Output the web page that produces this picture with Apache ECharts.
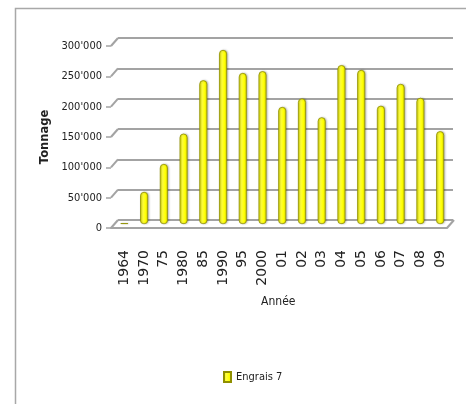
<!DOCTYPE html>
<html>
<head>
<meta charset="utf-8">
<script src="https://cdn.jsdelivr.net/npm/echarts@6/dist/echarts.min.js"></script>
<style>
  html, body { margin: 0; padding: 0; background: #ffffff; }
  #chart { width: 466px; height: 404px; }
</style>
</head>
<body>
<div id="chart"></div>
<script>
// Tonnage d'engrais par année
const years = ['1964', '1970', '75', '1980', '85', '1990', '95', '2000', '01', '02', '03', '04', '05', '06', '07', '08', '09'];
const engrais7 = [1500, 53000, 99000, 149000, 237000, 287000, 249000, 252000, 193000, 207000, 176000, 262000, 254000, 195000, 231000, 208000, 153000];
const yTicks = [0, 50000, 100000, 150000, 200000, 250000, 300000];
const seriesName = 'Engrais 7';

const narrow = '"Liberation Sans Narrow", "DejaVu Sans Condensed", "Liberation Sans", sans-serif';
const gridGray = '#a3a3a3';

function tickLabel(v) {
  return v === 0 ? '0' : (v / 1000) + "'000";
}

const chart = echarts.init(document.getElementById('chart'), null, { renderer: 'canvas' });

chart.setOption({
  animation: false,
  backgroundColor: '#ffffff',
  graphic: [{
    type: 'rect',
    z: -10,
    silent: true,
    shape: { x: 15.5, y: 8.5, width: 480, height: 420 },
    style: { fill: 'none', stroke: '#a8a8a8', lineWidth: 1.5 }
  }],
  legend: {
    data: [seriesName],
    left: 218,
    top: 366,
    icon: 'rect',
    itemWidth: 7,
    itemHeight: 10,
    itemGap: 3,
    textStyle: { fontFamily: narrow, fontSize: 11, color: '#222' }
  },
  grid: [
    // back wall
    { left: 118, right: 13, top: 38, bottom: 184 },
    // front edge
    { left: 111, right: 19, top: 46, bottom: 176 },
    // column depth
    { left: 114.5, right: 16, top: 42, bottom: 180 }
  ],
  xAxis: [
    { gridIndex: 0, type: 'value', min: 0, max: 1, show: false },
    {
      gridIndex: 1, type: 'value', min: 0, max: 1,
      axisLine: { show: true, lineStyle: { color: gridGray, width: 2 } },
      axisTick: { show: false }, axisLabel: { show: false }, splitLine: { show: false }
    },
    {
      gridIndex: 2, type: 'category', data: years,
      axisLine: { show: false }, axisTick: { show: false },
      axisLabel: {
        rotate: 90, margin: 26, interval: 0,
        fontFamily: '"DejaVu Sans", sans-serif', fontSize: 14, color: '#222'
      },
      name: 'Année', nameLocation: 'middle', nameGap: 72,
      nameTextStyle: { fontFamily: narrow, fontSize: 12, color: '#222', padding: [0, 8, 0, 0] }
    }
  ],
  yAxis: [
    {
      gridIndex: 0, type: 'value', min: 0, max: 300000, interval: 50000,
      axisLine: { show: false }, axisTick: { show: false }, axisLabel: { show: false },
      splitLine: { show: true, lineStyle: { color: gridGray, width: 2 } }
    },
    {
      gridIndex: 1, type: 'value', min: 0, max: 300000, interval: 50000,
      axisLine: { show: false },
      axisTick: { show: true, length: 5, lineStyle: { color: gridGray, width: 1.5 } },
      splitLine: { show: false },
      axisLabel: {
        margin: 9, formatter: tickLabel, padding: [5, 0, 0, 0],
        fontFamily: narrow, fontSize: 11, color: '#222'
      },
      name: 'Tonnage', nameLocation: 'middle', nameRotate: 90, nameGap: 58,
      nameTextStyle: { fontFamily: '"DejaVu Sans", sans-serif', fontWeight: 'bold', fontSize: 11.5, color: '#222' }
    },
    { gridIndex: 2, type: 'value', min: 0, max: 300000, show: false }
  ],
  series: [
    {
      // slanted edges joining front ticks to the back wall
      type: 'custom',
      xAxisIndex: 1, yAxisIndex: 1,
      silent: true,
      z: 1,
      data: yTicks.map(v => [0, v]).concat([[1, 0]]),
      renderItem: function (params, api) {
        const p = api.coord([api.value(0), api.value(1)]);
        return {
          type: 'line',
          shape: { x1: p[0], y1: p[1], x2: p[0] + 7, y2: p[1] - 8 },
          style: { stroke: gridGray, lineWidth: 2 }
        };
      }
    },
    {
      name: seriesName,
      type: 'bar',
      xAxisIndex: 2, yAxisIndex: 2,
      data: engrais7,
      barWidth: 8,
      z: 3,
      itemStyle: {
        color: new echarts.graphic.LinearGradient(0, 0, 1, 0, [
          { offset: 0, color: '#dede00' },
          { offset: 0.35, color: '#ffff40' },
          { offset: 0.7, color: '#ffff00' },
          { offset: 1, color: '#cccc00' }
        ]),
        borderColor: '#8f8f00',
        borderWidth: 0.8,
        borderRadius: [4, 4, 3, 3],
        shadowColor: 'rgba(0,0,0,0.25)',
        shadowBlur: 2,
        shadowOffsetX: 1
      }
    }
  ]
});
</script>
</body>
</html>
